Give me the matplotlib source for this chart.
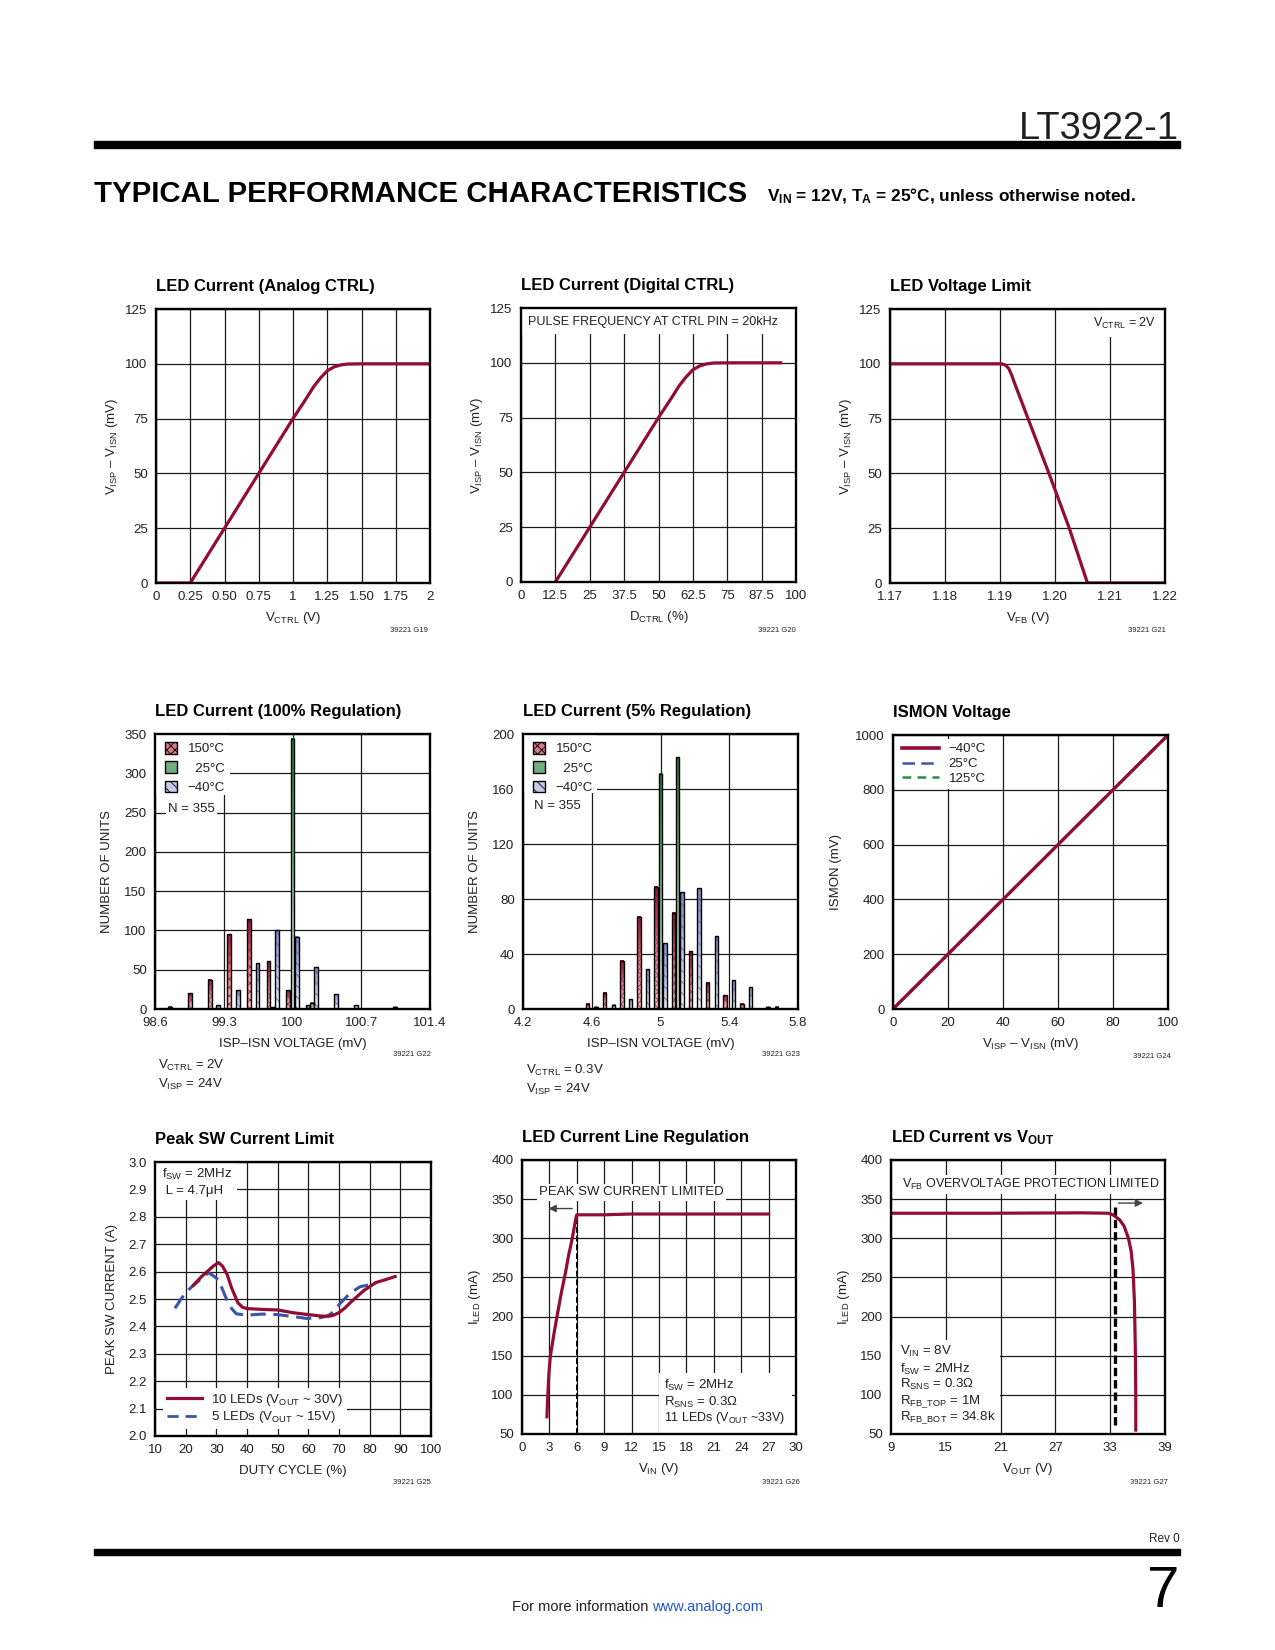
import numpy as np
import matplotlib
matplotlib.use('Agg')
import matplotlib.pyplot as plt
from matplotlib.patches import Rectangle, Patch
from matplotlib.lines import Line2D
from matplotlib.colors import LinearSegmentedColormap

# ---------------- data ----------------
analog_vctrl = [0, 0.25, 0.5, 0.75, 1.0, 1.1, 1.15, 1.2, 1.25, 1.3, 1.35, 1.4, 1.5, 2.0]
analog_vsense = [0, 0, 25, 50, 75, 84.5, 89.5, 93.5, 96.8, 98.6, 99.5, 99.9, 100, 100]

digital_duty = [12.5, 25, 37.5, 50, 55, 57.5, 60, 62.5, 65, 67.5, 70, 75, 94.4]
digital_vsense = [0, 25, 50, 75, 84.5, 89.5, 93.5, 96.8, 98.6, 99.5, 99.9, 100, 100]

vfb = [1.17, 1.1903, 1.1910, 1.1916, 1.1921, 1.1926, 1.1951, 1.1989, 1.2026, 1.2059, 1.22]
vfb_vsense = [100, 100, 99.4, 97.8, 95, 91.5, 75, 50, 25, 0, 0]

hist100_bins = [98.8, 99.0, 99.2, 99.4, 99.6, 99.8, 100.0, 100.2, 100.4, 100.6, 100.8, 101.0]
hist100_hot = [3, 20, 37, 95, 114, 61, 24, 5, 0, 0, 0, 0]
hist100_room = [0, 0, 0, 0, 0, 2, 344, 8, 0, 0, 0, 0]
hist100_cold = [0, 0, 5, 24, 58, 100, 92, 53, 19, 5, 0, 3]

hist5_bins = [4.6, 4.7, 4.8, 4.9, 5.0, 5.1, 5.2, 5.3, 5.4, 5.5, 5.6, 5.7]
hist5_hot = [4, 12, 35, 67, 89, 70, 42, 19, 10, 4, 0, 1.5]
hist5_room = [0, 0, 0, 0, 171, 183, 0, 0, 0, 0, 0, 0]
hist5_cold = [1.5, 3, 7, 29, 48, 85, 88, 53, 21, 16, 1.5, 0]

ismon_x = [0, 100]
ismon_m40 = [0, 1000]
ismon_25 = [0, 1000]
ismon_125 = [0, 1000]

ipk_duty_10 = [22.5, 25, 27, 29, 30.7, 32, 33.5, 35, 37, 38.5, 40, 45, 50, 55, 60, 64,
               66.5, 68, 70, 72, 74, 76, 78, 80, 82, 85, 88.3]
ipk_10 = [2.55, 2.58, 2.60, 2.62, 2.633, 2.62, 2.59, 2.54, 2.487, 2.47, 2.465, 2.462,
          2.46, 2.45, 2.443, 2.438, 2.437, 2.44, 2.45, 2.468, 2.49, 2.51, 2.53, 2.545,
          2.56, 2.57, 2.582]
ipk_duty_5 = [16.5, 18.5, 20.3, 22.5, 24.7, 27.4, 29, 30.7, 32, 33.5, 35, 36.5, 39.9,
              45, 50, 55, 59.5, 63.9, 66, 67.5, 70.4, 73.6, 76.9, 79.6]
ipk_5 = [2.466, 2.5, 2.527, 2.55, 2.57, 2.596, 2.585, 2.57, 2.535, 2.495, 2.465, 2.446,
         2.441, 2.445, 2.443, 2.436, 2.429, 2.432, 2.437, 2.447, 2.484, 2.521, 2.545, 2.551]

line_vin = [2.73, 2.78, 2.84, 2.95, 3.1, 3.5, 3.83, 4.3, 4.74, 5.1, 5.47, 5.94, 6.0, 9, 12, 27]
line_iled = [72, 88, 102, 128, 149, 178, 200, 230, 255, 278, 298, 328, 330, 330, 331, 331]

vout = [9, 20, 30, 32.8, 33.3, 34.0, 34.5, 35.0, 35.3, 35.5, 35.65, 35.75, 35.8, 35.8]
vout_iled = [332, 332, 332.5, 332, 330, 324, 316, 300, 283, 260, 220, 160, 100, 55]

# ---------------- style ----------------
NARROW = ['Liberation Sans Narrow', 'Liberation Sans', 'DejaVu Sans']
plt.rcParams['font.family'] = NARROW
plt.rcParams['mathtext.fontset'] = 'custom'
plt.rcParams['mathtext.rm'] = 'Liberation Sans'
plt.rcParams['mathtext.it'] = 'Liberation Sans:italic'
plt.rcParams['mathtext.bf'] = 'Liberation Sans:bold'
plt.rcParams['mathtext.default'] = 'regular'
plt.rcParams['hatch.linewidth'] = 0.6

TXT = '#231F20'
RED = '#930C35'
BLUE = '#3A55A8'
GREEN = '#2E8B46'
TICK_FS = 9.5
LAB_FS = 9.5
TITLE_FS = 12
ANN_FS = 9

W, H = 1275, 1650
fig = plt.figure(figsize=(W / 100, H / 100), dpi=100)
fig.patch.set_facecolor('white')


def fx(px):
    return px / W


def fy(py):
    return 1 - py / H


def make_ax(l, t, r, b):
    ax = fig.add_axes([l / W, 1 - b / H, (r - l) / W, (b - t) / H])
    ax.set_axisbelow(True)
    ax.grid(True, color='#1a1a1a', lw=0.9)
    for s in ax.spines.values():
        s.set_linewidth(1.7)
        s.set_color('black')
        s.set_zorder(6)
    ax.tick_params(length=0, pad=6, labelsize=TICK_FS, labelcolor=TXT)
    return ax


def labels(ax, title, xl, yl, ylx):
    ax.set_title(title, loc='left', fontsize=TITLE_FS, fontweight='bold', pad=13, color='black')
    ax.set_xlabel(xl, fontsize=LAB_FS, color=TXT)
    ax.set_ylabel(yl, fontsize=LAB_FS, color=TXT)
    ax.xaxis.set_label_coords(0.5, -0.128)
    ax.xaxis.label.set_va('center')
    ax.yaxis.set_label_coords(ylx, 0.5)
    ax.yaxis.label.set_va('center')


def note(xr, y, s):
    fig.text(fx(xr), fy(y), s, ha='right', va='center', fontsize=5.5, color=TXT)


def white_box(ax, x0, y0, x1, y1):
    ax.add_patch(Rectangle((x0, y0), x1 - x0, y1 - y0, facecolor='white', edgecolor='none', zorder=1))


WB = dict(facecolor='white', edgecolor='none', pad=1.5)

# ---------------- header / footer ----------------
fig.add_artist(Rectangle((fx(93.6), fy(147.5)), fx(1180) - fx(93.6), 6.5 / H,
                         transform=fig.transFigure, color='black'))
fig.add_artist(Rectangle((fx(93.6), fy(1555)), fx(1180) - fx(93.6), 6.5 / H,
                         transform=fig.transFigure, color='black'))
t_part = fig.text(fx(1179), fy(139), 'LT3922-1', ha='right', va='baseline', fontsize=33, color=TXT)
t_head = fig.text(fx(93.6), fy(202), 'TYPICAL PERFORMANCE CHARACTERISTICS', ha='left', va='baseline',
                  fontsize=27, fontweight='bold', color='black')
t_sub = fig.text(fx(767), fy(201), r'V$_{\mathbf{IN}}$ = 12V, T$_{\mathbf{A}}$ = 25°C, unless otherwise noted.',
                 ha='left', va='baseline', fontsize=13.5, fontweight='bold', color='black')
fig.text(fx(1180), fy(1542), 'Rev 0', ha='right', va='baseline', fontsize=8.5, color=TXT)
fig.text(fx(1179), fy(1607), '7', ha='right', va='baseline', fontsize=42, color='black')
t_more = fig.text(fx(512), fy(1611), 'For more information ', ha='left', va='baseline', fontsize=10.5, color=TXT)
t_url = fig.text(fx(512), fy(1611), 'www.analog.com', ha='left', va='baseline', fontsize=10.5, color='#1F55D6')

# ---------------- G19 ----------------
ax = make_ax(156, 309, 430, 583)
ax.plot(analog_vctrl, analog_vsense, color=RED, lw=2.3, solid_capstyle='butt')
ax.set_xlim(0, 2)
ax.set_ylim(0, 125)
ax.set_xticks([0, 0.25, 0.5, 0.75, 1, 1.25, 1.5, 1.75, 2])
ax.set_xticklabels(['0', '0.25', '0.50', '0.75', '1', '1.25', '1.50', '1.75', '2'])
ax.set_yticks([0, 25, 50, 75, 100, 125])
labels(ax, 'LED Current (Analog CTRL)', r'V$_{CTRL}$ (V)', r'V$_{ISP}$ – V$_{ISN}$ (mV)', -0.16)
note(428, 631, '39221 G19')

# ---------------- G20 ----------------
ax = make_ax(521, 308, 796, 582)
ax.plot(digital_duty, digital_vsense, color=RED, lw=2.3)
ax.set_xlim(0, 100)
ax.set_ylim(0, 125)
ax.set_xticks([0, 12.5, 25, 37.5, 50, 62.5, 75, 87.5, 100])
ax.set_xticklabels(['0', '12.5', '25', '37.5', '50', '62.5', '75', '87.5', '100'])
ax.set_yticks([0, 25, 50, 75, 100, 125])
white_box(ax, 0, 113, 100, 125)
ax.text(2.6, 118.7, 'PULSE FREQUENCY AT CTRL PIN = 20kHz', fontsize=ANN_FS, color=TXT, va='center', ha='left')
labels(ax, 'LED Current (Digital CTRL)', r'D$_{CTRL}$ (%)', r'V$_{ISP}$ – V$_{ISN}$ (mV)', -0.16)
note(796, 631, '39221 G20')

# ---------------- G21 ----------------
ax = make_ax(890, 309, 1165, 583)
ax.plot(vfb, vfb_vsense, color=RED, lw=2.3)
ax.set_xlim(1.17, 1.22)
ax.set_ylim(0, 125)
ax.set_xticks([1.17, 1.18, 1.19, 1.20, 1.21, 1.22])
ax.set_xticklabels(['1.17', '1.18', '1.19', '1.20', '1.21', '1.22'])
ax.set_yticks([0, 25, 50, 75, 100, 125])
white_box(ax, 1.2085, 112, 1.22, 125)
ax.text(1.2183, 118.5, r'V$_{CTRL}$ = 2V', fontsize=ANN_FS, color=TXT, va='center', ha='right')
labels(ax, 'LED Voltage Limit', r'V$_{FB}$ (V)', r'V$_{ISP}$ – V$_{ISN}$ (mV)', -0.16)
note(1166, 631, '39221 G21')

# ---------------- histogram helpers ----------------
GRAD = np.linspace(0, 1, 64).reshape(-1, 1)
CM_RED = LinearSegmentedColormap.from_list('r', ['#F3C6CE', '#E07A8C', '#8E0B32'])
CM_GRN = LinearSegmentedColormap.from_list('g', ['#E2F0E4', '#7DB98D', '#2A7A42'])
CM_BLU = LinearSegmentedColormap.from_list('b', ['#F0F1FA', '#B8BEE2', '#7D86C2'])


def grad_bars(ax, centers, heights, width, cmap, hatch, hcolor):
    xs = [c for c, h in zip(centers, heights) if h > 0]
    hs = [h for h in heights if h > 0]
    bars = ax.bar(xs, hs, width=width, facecolor='none', edgecolor='black', linewidth=1.0, zorder=4)
    for b in bars:
        x0, w, h = b.get_x(), b.get_width(), b.get_height()
        ax.imshow(GRAD, extent=(x0, x0 + w, 0, h), origin='lower', cmap=cmap, aspect='auto',
                  interpolation='bilinear', zorder=2)
    if hatch:
        ax.bar(xs, hs, width=width, facecolor='none', edgecolor=hcolor, linewidth=0, hatch=hatch, zorder=3)


def hist_legend(ax, anchor):
    handles = [Patch(facecolor='#D9798A', edgecolor='black', hatch='xxxx', lw=1),
               Patch(facecolor='#6FAE80', edgecolor='black', lw=1),
               Patch(facecolor='#C5CAEA', edgecolor='black', hatch='\\\\\\', lw=1)]
    lg = ax.legend(handles, ['150°C', '  25°C', '\u221240°C'], loc='upper left', bbox_to_anchor=anchor,
                   frameon=False, fontsize=ANN_FS + 0.5, handlelength=0.95, handleheight=0.95,
                   handletextpad=0.8, labelspacing=0.45, borderaxespad=0, borderpad=0)
    for t in lg.get_texts():
        t.set_color(TXT)
    lg.set_zorder(7)


# ---------------- G22 ----------------
ax = make_ax(155, 734, 430, 1009)
off, wd = 0.044, 0.04
grad_bars(ax, [b - off for b in hist100_bins], hist100_hot, wd, CM_RED, 'xxxx', '#B0284E')
grad_bars(ax, hist100_bins, hist100_room, wd, CM_GRN, None, None)
grad_bars(ax, [b + off for b in hist100_bins], hist100_cold, wd, CM_BLU, '\\\\\\', '#5A68B8')
ax.set_xlim(98.6, 101.4)
ax.set_ylim(0, 350)
ax.set_xticks([98.6, 99.3, 100, 100.7, 101.4])
ax.set_xticklabels(['98.6', '99.3', '100', '100.7', '101.4'])
ax.set_yticks([0, 50, 100, 150, 200, 250, 300, 350])
white_box(ax, 98.6, 272, 99.36, 350)
hist_legend(ax, (0.035, 0.97))
ax.text(98.73, 255, 'N = 355', fontsize=ANN_FS + 0.5, color=TXT, va='center', ha='left', bbox=WB, zorder=7)
labels(ax, 'LED Current (100% Regulation)', 'ISP\u2013ISN VOLTAGE (mV)', 'NUMBER OF UNITS', -0.175)
note(431, 1055, '39221 G22')
fig.text(fx(158), fy(1065), r'V$_{CTRL}$ = 2V', fontsize=ANN_FS + 0.5, color=TXT, va='center')
fig.text(fx(158), fy(1084), r'V$_{ISP}$ = 24V', fontsize=ANN_FS + 0.5, color=TXT, va='center')

# ---------------- G23 ----------------
ax = make_ax(523, 734, 798, 1009)
off, wd = 0.025, 0.02
grad_bars(ax, [b - off for b in hist5_bins], hist5_hot, wd, CM_RED, 'xxxx', '#B0284E')
grad_bars(ax, hist5_bins, hist5_room, wd, CM_GRN, None, None)
grad_bars(ax, [b + off for b in hist5_bins], hist5_cold, wd, CM_BLU, '\\\\\\', '#5A68B8')
ax.set_xlim(4.2, 5.8)
ax.set_ylim(0, 200)
ax.set_xticks([4.2, 4.6, 5.0, 5.4, 5.8])
ax.set_xticklabels(['4.2', '4.6', '5', '5.4', '5.8'])
ax.set_yticks([0, 40, 80, 120, 160, 200])
white_box(ax, 4.2, 157, 4.628, 200)
hist_legend(ax, (0.035, 0.97))
ax.text(4.265, 148, 'N = 355', fontsize=ANN_FS + 0.5, color=TXT, va='center', ha='left', bbox=WB, zorder=7)
labels(ax, 'LED Current (5% Regulation)', 'ISP\u2013ISN VOLTAGE (mV)', 'NUMBER OF UNITS', -0.175)
note(800, 1055, '39221 G23')
fig.text(fx(526), fy(1070), r'V$_{CTRL}$ = 0.3V', fontsize=ANN_FS + 0.5, color=TXT, va='center')
fig.text(fx(526), fy(1089), r'V$_{ISP}$ = 24V', fontsize=ANN_FS + 0.5, color=TXT, va='center')

# ---------------- G24 ----------------
ax = make_ax(893, 735, 1168, 1009)
ax.plot(ismon_x, ismon_125, color=GREEN, lw=2.0, ls=(0, (4, 2.5)))
ax.plot(ismon_x, ismon_25, color=BLUE, lw=2.0, ls=(0, (6, 2.5)))
ax.plot(ismon_x, ismon_m40, color=RED, lw=2.3)
ax.set_xlim(0, 100)
ax.set_ylim(0, 1000)
ax.set_xticks([0, 20, 40, 60, 80, 100])
ax.set_yticks([0, 200, 400, 600, 800, 1000])
h = [Line2D([], [], color=RED, lw=2.6),
     Line2D([], [], color=BLUE, lw=1.8, ls=(0, (5, 2.5))),
     Line2D([], [], color=GREEN, lw=1.8, ls=(0, (3.5, 2.5)))]
lg = ax.legend(h, ['\u221240°C', '25°C', '125°C'], loc='upper left', bbox_to_anchor=(0.02, 0.985),
               frameon=True, fancybox=False, framealpha=1, edgecolor='none', facecolor='white',
               fontsize=ANN_FS + 0.5, handlelength=2.8, handletextpad=0.7, labelspacing=0.2,
               borderaxespad=0, borderpad=0.3)
for t in lg.get_texts():
    t.set_color(TXT)
labels(ax, 'ISMON Voltage', r'V$_{ISP}$ – V$_{ISN}$ (mV)', 'ISMON (mV)', -0.207)
note(1171, 1057, '39221 G24')

# ---------------- G25 ----------------
ax = make_ax(155, 1162, 431, 1436)
ax.plot(ipk_duty_5, ipk_5, color=BLUE, lw=2.2, ls=(0, (5, 2.5)))
ax.plot(ipk_duty_10, ipk_10, color=RED, lw=2.3)
ax.set_xlim(10, 100)
ax.set_ylim(2.0, 3.0)
ax.set_xticks(np.arange(10, 101, 10))
ax.set_yticks(np.round(np.arange(2.0, 3.01, 0.1), 1))
ax.set_yticklabels(['%.1f' % v for v in np.arange(2.0, 3.01, 0.1)])
white_box(ax, 10, 2.86, 36.6, 3.0)
ax.text(12.2, 2.955, r'f$_{SW}$ = 2MHz', fontsize=ANN_FS + 0.5, color=TXT, va='center', ha='left')
ax.text(12.2, 2.895, ' L = 4.7μH', fontsize=ANN_FS + 0.5, color=TXT, va='center', ha='left')
h = [Line2D([], [], color=RED, lw=2.3), Line2D([], [], color=BLUE, lw=2.0, ls=(0, (4, 2.5)))]
lg = ax.legend(h, [r'10 LEDs (V$_{OUT}$ ~ 30V)', r'5 LEDs (V$_{OUT}$ ~ 15V)'], loc='lower left',
               bbox_to_anchor=(0.03, 0.025), frameon=True, fancybox=False, framealpha=1, edgecolor='none',
               facecolor='white', fontsize=ANN_FS + 0.5, handlelength=2.6, handletextpad=0.7,
               labelspacing=0.1, borderaxespad=0, borderpad=0.3)
for t in lg.get_texts():
    t.set_color(TXT)
labels(ax, 'Peak SW Current Limit', 'DUTY CYCLE (%)', 'PEAK SW CURRENT (A)', -0.157)
note(431, 1483, '39221 G25')

# ---------------- G26 ----------------
ax = make_ax(522, 1160, 796, 1434)
ax.plot([6, 6], [50, 331], color='black', lw=1.4, ls=(0, (3, 1.5)), zorder=3)
ax.plot(line_vin, line_iled, color=RED, lw=2.3, zorder=4)
ax.set_xlim(0, 30)
ax.set_ylim(50, 400)
ax.set_xticks(np.arange(0, 31, 3))
ax.set_yticks(np.arange(50, 401, 50))
ax.text(1.9, 358.5, 'PEAK SW CURRENT LIMITED', fontsize=ANN_FS + 0.5, color=TXT, va='center', ha='left', bbox=WB)
ax.annotate('', xy=(2.6, 338), xytext=(5.8, 338),
            arrowprops=dict(arrowstyle='-|>', color='#444444', lw=1.0, mutation_scale=11))
white_box(ax, 15.0, 50.5, 29.6, 128)
ax.text(15.6, 111.5, r'f$_{SW}$ = 2MHz', fontsize=ANN_FS + 0.5, color=TXT, va='center', ha='left')
ax.text(15.6, 90.5, r'R$_{SNS}$ = 0.3Ω', fontsize=ANN_FS + 0.5, color=TXT, va='center', ha='left')
ax.text(15.6, 70.5, r'11 LEDs (V$_{OUT}$ ~33V)', fontsize=ANN_FS, color=TXT, va='center', ha='left')
labels(ax, 'LED Current Line Regulation', r'V$_{IN}$ (V)', r'I$_{LED}$ (mA)', -0.17)
note(800, 1483, '39221 G26')

# ---------------- G27 ----------------
ax = make_ax(891, 1160, 1165, 1434)
ax.plot([33.5, 33.5], [62, 345], color='black', lw=2.4, ls=(0, (2.5, 1.2)), zorder=3)
ax.plot(vout, vout_iled, color=RED, lw=2.3, zorder=4)
ax.set_xlim(9, 39)
ax.set_ylim(50, 400)
ax.set_xticks(np.arange(9, 40, 6))
ax.set_yticks(np.arange(50, 401, 50))
ax.text(38.45, 369, r'V$_{FB}$ OVERVOLTAGE PROTECTION LIMITED', fontsize=ANN_FS, color=TXT,
        va='center', ha='right', bbox=WB)
ax.annotate('', xy=(36.9, 345), xytext=(33.6, 345),
            arrowprops=dict(arrowstyle='-|>', color='#444444', lw=1.0, mutation_scale=11))
white_box(ax, 9, 50.5, 20.9, 170)
for yv, s in zip([155.4, 133, 113, 91.6, 70.3],
                 [r'V$_{IN}$ = 8V', r'f$_{SW}$ = 2MHz', r'R$_{SNS}$ = 0.3Ω',
                  r'R$_{FB\_TOP}$ = 1M', r'R$_{FB\_BOT}$ = 34.8k']):
    ax.text(10.0, yv, s, fontsize=ANN_FS + 0.5, color=TXT, va='center', ha='left')
labels(ax, r'LED Current vs V$_{\mathbf{OUT}}$', r'V$_{OUT}$ (V)', r'I$_{LED}$ (mA)', -0.171)
note(1168, 1483, '39221 G27')

# ---------------- fit header texts ----------------
fig.canvas.draw()
r = fig.canvas.get_renderer()


def fit_width(t, target):
    w = t.get_window_extent(renderer=r).width
    t.set_fontsize(t.get_fontsize() * target / w)


fit_width(t_head, 744 - 93.6)
fit_width(t_sub, 1136 - 767)
fit_width(t_part, 1178 - 1018)
w_more = t_more.get_window_extent(renderer=r).width
t_url.set_position((fx(512 + w_more), fy(1611)))

fig.savefig('out.png', dpi=100, facecolor='white')
